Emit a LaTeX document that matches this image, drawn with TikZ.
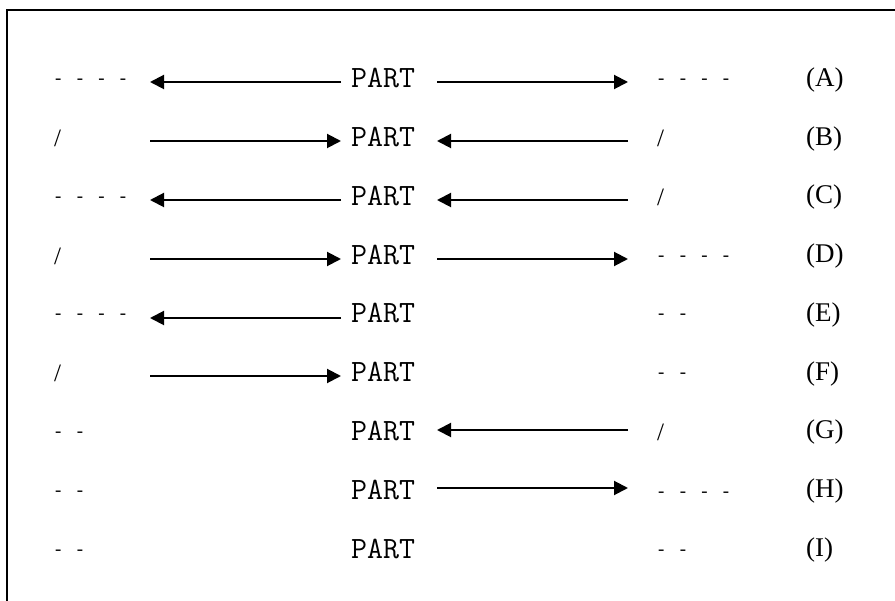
\documentclass[tikz,border=0pt]{standalone}
\usepackage{fontspec}
\setmainfont{Liberation Serif}
\newfontfamily\dashfont{Liberation Mono}
\usetikzlibrary{arrows.meta}
\tikzset{
  partlbl/.style={font=\ttfamily\fontsize{31}{31}\selectfont, inner sep=0pt, anchor=west},
  dashlbl/.style={font=\dashfont\fontsize{18}{18}\selectfont, inner sep=0pt, anchor=base west},
  slashlbl/.style={font=\fontsize{25}{25}\selectfont, inner sep=0pt, anchor=west},
  letterlbl/.style={font=\fontsize{27}{27}\selectfont, inner sep=0pt, anchor=west},
  conn/.style={line width=2pt, -{Triangle[length=14pt,width=14pt]}},
  frame/.style={line width=2pt},
}
\begin{document}
\begin{tikzpicture}[x=1pt,y=-1pt]
\useasboundingbox (0,0) rectangle (895,601);
\draw[frame] (895,10) -- (7,10) -- (7,601);

% ---- PART nodes and row letters
\foreach \r/\y in {A/80,B/138.75,C/197.5,D/256.25,E/315,F/373.75,G/432.5,H/491.25,I/550}{
  \node[partlbl] (p-\r) at (351,\y-1.5) {PART};
  \node[letterlbl] (t-\r) at (806,\y) {(\r)};
}

% ---- left labels
\node[dashlbl] (l-A) at (52.7,85) {- - - -};
\node[slashlbl] (l-B) at (54,138.75) {/};
\node[dashlbl] (l-C) at (52.7,202.5) {- - - -};
\node[slashlbl] (l-D) at (54,256.25) {/};
\node[dashlbl] (l-E) at (52.7,320) {- - - -};
\node[slashlbl] (l-F) at (54,373.75) {/};
\node[dashlbl] (l-G) at (52.7,437.5) {- -};
\node[dashlbl] (l-H) at (52.7,496.25) {- -};
\node[dashlbl] (l-I) at (52.7,555) {- -};

% ---- right labels
\node[dashlbl] (r-A) at (655.7,85) {- - - -};
\node[slashlbl] (r-B) at (657,138.75) {/};
\node[slashlbl] (r-C) at (657,197.5) {/};
\node[dashlbl] (r-D) at (655.7,261.25) {- - - -};
\node[dashlbl] (r-E) at (655.7,320) {- -};
\node[dashlbl] (r-F) at (655.7,378.75) {- -};
\node[slashlbl] (r-G) at (657,432.5) {/};
\node[dashlbl] (r-H) at (655.7,497.25) {- - - -};
\node[dashlbl] (r-I) at (655.7,555) {- -};

% ---- arrow end points
\foreach \r/\y in {A/82,B/141,C/200,D/259,E/318,F/376,G/430,H/488}{
  \coordinate (al-\r) at (150,\y);
  \coordinate (pl-\r) at (341,\y);
  \coordinate (pr-\r) at (437,\y);
  \coordinate (ar-\r) at (628,\y);
}

% ---- connectors
\draw[conn] (pl-A) -- (al-A);
\draw[conn] (pr-A) -- (ar-A);
\draw[conn] (al-B) -- (pl-B);
\draw[conn] (ar-B) -- (pr-B);
\draw[conn] (pl-C) -- (al-C);
\draw[conn] (ar-C) -- (pr-C);
\draw[conn] (al-D) -- (pl-D);
\draw[conn] (pr-D) -- (ar-D);
\draw[conn] (pl-E) -- (al-E);
\draw[conn] (al-F) -- (pl-F);
\draw[conn] (ar-G) -- (pr-G);
\draw[conn] (pr-H) -- (ar-H);
\end{tikzpicture}
\end{document}
